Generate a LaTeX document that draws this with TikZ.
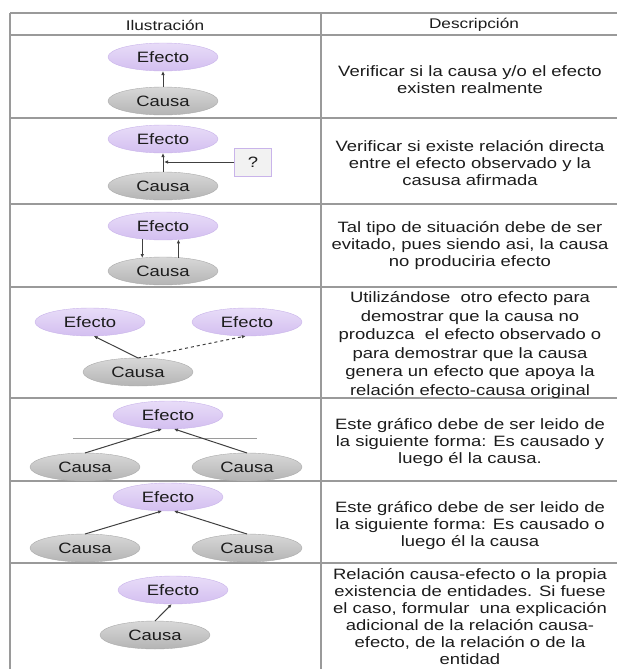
\documentclass[tikz,border=0pt]{standalone}
\usepackage{fontspec}
\setmainfont[FakeStretch=1.23]{Liberation Sans}
\usetikzlibrary{arrows.meta,shapes.geometric}
\definecolor{lilaarriba}{HTML}{E8DCF8}
\definecolor{lilaabajo}{HTML}{D3BFF0}
\definecolor{lilaborde}{HTML}{C9B4EA}
\definecolor{grisarriba}{HTML}{D8D8D8}
\definecolor{grisabajo}{HTML}{B4B4B4}
\definecolor{grisborde}{HTML}{ABABAB}
\definecolor{rejilla}{HTML}{9A9A9A}
\definecolor{texto}{HTML}{1C1C1C}
\begin{document}
\begin{tikzpicture}[x=1pt,y=-1pt,
  efecto/.style={ellipse,draw=lilaborde,top color=lilaarriba,bottom color=lilaabajo,
    minimum width=110pt,minimum height=28pt,inner sep=0pt,outer sep=0pt,
    text=texto,font=\fontsize{15}{17}\selectfont},
  causa/.style={efecto,draw=grisborde,top color=grisarriba,bottom color=grisabajo},
  flecha/.style={draw=black!75,line width=1pt,-{Latex[length=4pt,width=3.5pt]}},
  desc/.style={align=center,inner sep=0pt,text=texto,font=\fontsize{15}{17}\selectfont},
  linea/.style={draw=rejilla,line width=1.3pt}]
\useasboundingbox (0,0) rectangle (617,669);
% tabla
\foreach \y in {13,35,118,204,287,398,481,563}
  \draw[linea] (10,\y) -- (617,\y);
\draw[linea] (10,13) -- (10,669);
\draw[linea] (321,13) -- (321,669);
\node[desc,font=\fontsize{14}{16}\selectfont] (ilus) at (165,25) {Ilustración};
\node[desc,font=\fontsize{14}{16}\selectfont] (descr) at (474,25) {Descripción};
% fila 1
\node[efecto] (ef1) at (163,57) {Efecto};
\node[causa] (ca1) at (163,101) {Causa};
\draw[flecha] (ca1) -- (ef1);
\node[desc] (d1) at (470,80) {Verificar si la causa y/o el efecto\\existen realmente};
% fila 2
\node[efecto] (ef2) at (163,139) {Efecto};
\node[causa] (ca2) at (163,186) {Causa};
\node[draw=lilaborde,fill=black!5,minimum width=37pt,minimum height=28pt,inner sep=0pt,
  text=texto,font=\fontsize{15}{17}\selectfont] (q) at (253,162) {?};
\coordinate (m2) at (164,162);
\draw[flecha] (ca2) -- (ef2);
\draw[flecha] (q.west) -- (m2);
\node[desc] (d2) at (470,163) {Verificar si existe relación directa\\entre el efecto observado y la\\casusa afirmada};
% fila 3
\node[efecto] (ef3) at (163,226) {Efecto};
\node[causa] (ca3) at (163,271) {Causa};
\draw[flecha] (ef3.212) -- (ca3.148);
\draw[flecha] (ca3.41) -- (ef3.319);
\node[desc] (d3) at (470,246) {Tal tipo de situación debe de ser\\evitado, pues siendo asi, la causa\\no produciria efecto};
% fila 4
\node[efecto] (ef4a) at (90,322) {Efecto};
\node[efecto] (ef4b) at (247,322) {Efecto};
\node[causa] (ca4) at (138,372) {Causa};
\draw[flecha] (ca4.north) -- (ef4a.-75);
\draw[flecha,dashed] (ca4.north) -- (ef4b.-95);
\node[desc,font=\fontsize{15}{18.5}\selectfont] (d4) at (470,345) {Utilizándose \ otro efecto para\\demostrar que la causa no\\produzca \ el efecto observado o\\para demostrar que la causa\\genera un efecto que apoya la\\relación efecto-causa original};
% fila 5
\node[efecto] (ef5) at (168,415) {Efecto};
\node[causa] (ca5a) at (85,467) {Causa};
\node[causa] (ca5b) at (247,467) {Causa};
\draw[linea,line width=1pt] (73,438) -- (257,438);
\draw[flecha] (ca5a.north) -- (ef5.247);
\draw[flecha] (ca5b.north) -- (ef5.293);
\node[desc] (d5) at (470,443) {Este gráfico debe de ser leido de\\la siguiente forma: Es causado y\\luego él la causa.};
% fila 6
\node[efecto] (ef6) at (168,497) {Efecto};
\node[causa] (ca6a) at (85,548) {Causa};
\node[causa] (ca6b) at (247,548) {Causa};
\draw[flecha] (ca6a.north) -- (ef6.247);
\draw[flecha] (ca6b.north) -- (ef6.293);
\node[desc] (d6) at (470,526) {Este gráfico debe de ser leido de\\la siguiente forma: Es causado o\\luego él la causa};
% fila 7
\node[efecto] (ef7) at (173,590) {Efecto};
\node[causa] (ca7) at (155,635) {Causa};
\draw[flecha] (ca7.north) -- (ef7.-95);
\node[desc] (d7) at (470,617) {Relación causa-efecto o la propia\\existencia de entidades. Si fuese\\el caso, formular \ una explicación\\adicional de la relación causa-\\efecto, de la relación o de la\\entidad};
\end{tikzpicture}
\end{document}
